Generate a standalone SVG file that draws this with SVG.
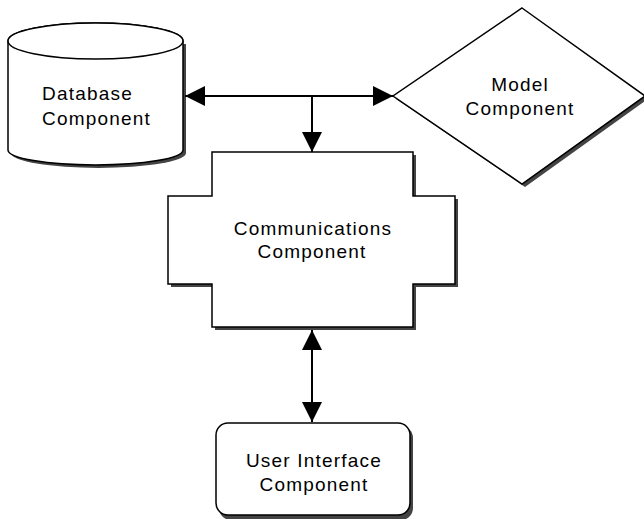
<svg xmlns="http://www.w3.org/2000/svg" width="644" height="519" viewBox="0 0 644 519">
<defs>
<style>
.sh{fill:#444;stroke:none}
.shape{fill:#fff;stroke:#000;stroke-width:1.5}
.lbl{font-family:"Liberation Sans",Arial,sans-serif;font-size:19px;letter-spacing:1.2px;fill:#000}
.c{text-anchor:middle}
.conn{stroke:#000;stroke-width:2;fill:none}
</style>
<marker id="ah" viewBox="0 0 20 20" refX="20" refY="10" markerWidth="20" markerHeight="20" markerUnits="userSpaceOnUse" orient="auto-start-reverse">
<path d="M0,0 L20,10 L0,20 Z" fill="#000"/>
</marker>
</defs>
<rect width="644" height="519" fill="#fff"/>

<g id="database">
<path class="sh" d="M11,44 L11,153 A87.5,15 0 0 0 186,153 L186,44 Z"/>
<path class="shape" d="M8,41 L8,150 A87.5,15 0 0 0 183,150 L183,41 A87.5,18 0 0 0 8,41 Z"/>
<ellipse class="shape" cx="95.5" cy="41" rx="87.5" ry="18"/>
<text class="lbl" x="42" y="100">Database</text>
<text class="lbl" x="42" y="125">Component</text>
</g>

<g id="model">
<polygon class="sh" points="525,11 648,99 525,187 396,99"/>
<polygon class="shape" points="522,8 645,96 522,184 393,96"/>
<text class="lbl c" x="520" y="91">Model</text>
<text class="lbl c" x="520" y="115">Component</text>
</g>

<g id="communications">
<polygon class="sh" points="215,155 416,155 416,199 458,199 458,287 416,287 416,330 215,330 215,287 171,287 171,199 215,199"/>
<polygon class="shape" points="212,152 413,152 413,196 455,196 455,284 413,284 413,327 212,327 212,284 168,284 168,196 212,196"/>
<text class="lbl c" x="313" y="235">Communications</text>
<text class="lbl c" x="312" y="258">Component</text>
</g>

<g id="userinterface">
<rect class="sh" x="219" y="426" width="194" height="94" rx="12"/>
<rect class="shape" x="216" y="423" width="194" height="92" rx="12"/>
<text class="lbl c" x="314" y="467">User Interface</text>
<text class="lbl c" x="314" y="491">Component</text>
</g>

<g id="connectors">
<path class="conn" d="M185,96 L393,96" marker-start="url(#ah)" marker-end="url(#ah)"/>
<path class="conn" d="M312,96 L312,152" marker-end="url(#ah)"/>
<path class="conn" d="M312,330 L312,422" marker-start="url(#ah)" marker-end="url(#ah)"/>
</g>
</svg>
